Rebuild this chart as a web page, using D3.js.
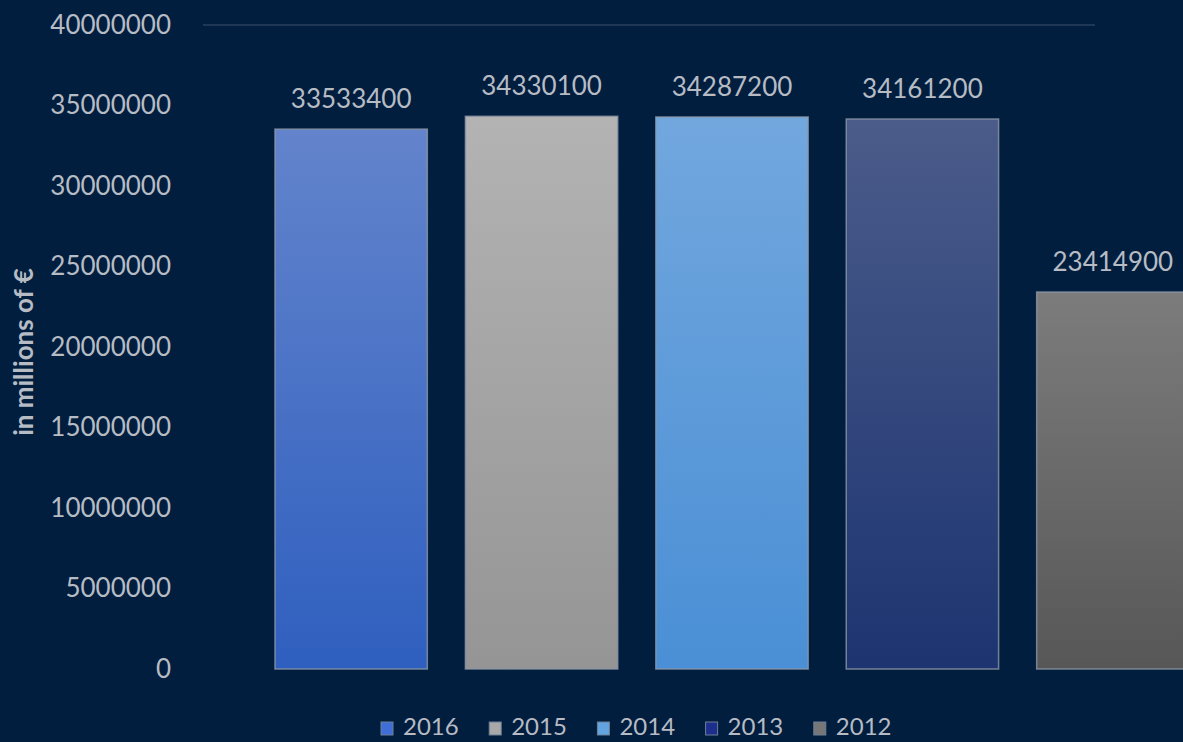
<!DOCTYPE html>
<html>
<head>
<meta charset="utf-8">
<script src="https://cdn.jsdelivr.net/npm/d3@7"></script>
<style>
  html, body { margin: 0; padding: 0; background: #011e3e; overflow: hidden; }
  svg { display: block; }
  text { font-family: Lato, "Open Sans", sans-serif; fill: #b6bbc4; }
</style>
</head>
<body>
<script>
// Yearly totals, one bar per year
const years = ["2016", "2015", "2014", "2013", "2012"];
const values = [33533400, 34330100, 34287200, 34161200, 23414900];
const yTicks = [0, 5000000, 10000000, 15000000, 20000000, 25000000, 30000000, 35000000, 40000000];
const axisTitle = "in millions of €";

// Fill gradients per year (top colour, bottom colour) and legend swatch colours
const gradTop = ["#6384cc", "#b3b3b3", "#72a7de", "#4b5c8a", "#7c7c7c"];
const gradBottom = ["#2f5fbf", "#959595", "#4a8fd5", "#1d3471", "#575757"];
const swatch = ["#3f6fd6", "#a9a9a9", "#62a4df", "#1c2f8e", "#777777"];

const W = 1183, H = 742;
const svg = d3.select("body").append("svg").attr("width", W).attr("height", H);

const defs = svg.append("defs");
years.forEach((yr, i) => {
  const g = defs.append("linearGradient")
    .attr("id", "grad" + i).attr("x1", 0).attr("y1", 0).attr("x2", 0).attr("y2", 1);
  g.append("stop").attr("offset", "0%").attr("stop-color", gradTop[i]);
  g.append("stop").attr("offset", "100%").attr("stop-color", gradBottom[i]);
});

const y = d3.scaleLinear().domain([0, 40000000]).range([669, 25]);
const x = d3.scaleBand().domain(years).range([203, 1261]).paddingInner(0.2).paddingOuter(0.378);

// Top gridline
svg.append("line")
  .attr("x1", 203).attr("x2", 1095)
  .attr("y1", y(40000000)).attr("y2", y(40000000))
  .attr("stroke", "#27405e").attr("stroke-width", 1.5);

// Y axis labels
const yAxis = d3.axisLeft(y).tickValues(yTicks).tickFormat(d3.format("d")).tickSize(0).tickPadding(0);
const gy = svg.append("g").attr("transform", "translate(171,0)").call(yAxis);
gy.select(".domain").remove();
gy.selectAll("text")
  .style("font-size", "26px").attr("fill", "#b6bbc4")
  .attr("font-family", "Lato, sans-serif");

// Axis title
svg.append("text")
  .attr("transform", "translate(33,352) rotate(-90)")
  .attr("text-anchor", "middle")
  .style("font-size", "26px").style("font-weight", "bold")
  .attr("fill", "#a4abb6")
  .text(axisTitle);

// Bars
svg.selectAll("rect.bar").data(values).join("rect")
  .attr("class", "bar")
  .attr("x", (d, i) => x(years[i]))
  .attr("y", d => y(d))
  .attr("width", x.bandwidth())
  .attr("height", d => y(0) - y(d))
  .attr("fill", (d, i) => "url(#grad" + i + ")")
  .attr("stroke", "#8c97a8").attr("stroke-opacity", 0.8).attr("stroke-width", 1.5);

// Value labels
svg.selectAll("text.val").data(values).join("text")
  .attr("class", "val")
  .attr("x", (d, i) => x(years[i]) + x.bandwidth() / 2)
  .attr("y", d => y(d) - 21)
  .attr("text-anchor", "middle")
  .style("font-size", "26px")
  .text(d => d);

// Legend
const legend = svg.append("g");
years.forEach((yr, i) => {
  const lx = 381 + i * 108.2;
  legend.append("rect")
    .attr("x", lx).attr("y", 722).attr("width", 12).attr("height", 13)
    .attr("fill", swatch[i]).attr("stroke", "#6f7f95").attr("stroke-width", 1);
  legend.append("text")
    .attr("x", lx + 22).attr("y", 735)
    .style("font-size", "24px")
    .text(yr);
});
</script>
</body>
</html>
